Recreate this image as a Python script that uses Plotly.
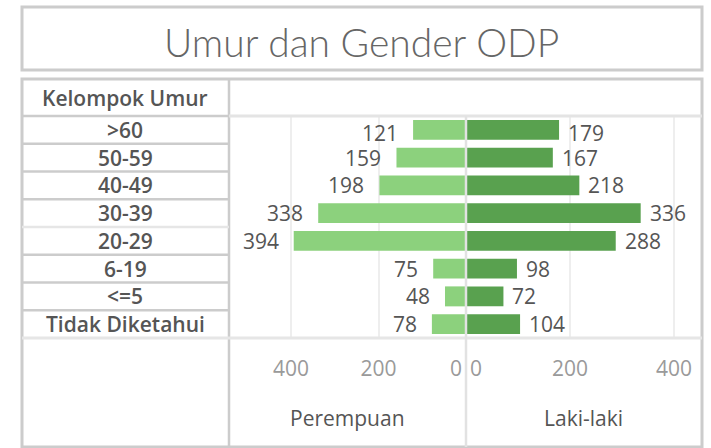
import plotly.graph_objects as go

# ---- data ----
age_groups = [">60", "50-59", "40-49", "30-39", "20-29", "6-19", "<=5", "Tidak Diketahui"]
perempuan = [121, 159, 198, 338, 394, 75, 48, 78]
laki_laki = [179, 167, 218, 336, 288, 98, 72, 104]
tick_vals = [200, 400]
tick_text = ["200", "400"]
title_text = "Umur dan Gender ODP"
row_header = "Kelompok Umur"
pane_titles = ["Perempuan", "Laki-laki"]

W, H = 711, 448
def px(x):
    return x / W
def py(y):
    return 1 - y / H

FONT = "Open Sans"
C_LIGHT = "#8CD17D"
C_DARK = "#59A14F"
BORDER = "#cccccc"
TXT = "#555555"
TICK = "#9a9a9a"
FS = 21

fig = go.Figure()
fig.add_trace(go.Bar(y=age_groups, x=perempuan, orientation="h", marker=dict(color=C_LIGHT, line=dict(width=0)),
                     width=0.72, xaxis="x", yaxis="y", name="Perempuan", hoverinfo="x+y"))
fig.add_trace(go.Bar(y=age_groups, x=laki_laki, orientation="h", marker=dict(color=C_DARK, line=dict(width=0)),
                     width=0.72, xaxis="x2", yaxis="y", name="Laki-laki", hoverinfo="x+y"))

n = len(age_groups)
left_max = 542
right_max = 452
STANDOFF = 16
axis_common = dict(showgrid=True, gridcolor="#eeeeee", gridwidth=2, zeroline=False, showline=False,
                   ticks="", tickfont=dict(family=FONT, size=FS, color=TICK), anchor="y",
                   fixedrange=True, ticklabelstandoff=STANDOFF)
zero_common = dict(showgrid=False, zeroline=False, showline=False, ticks="", anchor="y", fixedrange=True,
                   tickfont=dict(family=FONT, size=FS, color=TICK), ticklabelstandoff=STANDOFF,
                   tickvals=[0], ticktext=["0"])

fig.update_layout(
    width=W, height=H, margin=dict(l=0, r=0, t=0, b=0),
    paper_bgcolor="white", plot_bgcolor="white", showlegend=False, barmode="overlay",
    xaxis=dict(domain=[px(229), px(466)], range=[left_max, 0], tickvals=tick_vals, ticktext=tick_text, **axis_common),
    xaxis2=dict(domain=[px(466), px(701)], range=[0, right_max], tickvals=tick_vals, ticktext=tick_text, **axis_common),
    xaxis3=dict(overlaying="x", range=[left_max, 0], ticklabelposition="outside left", ticklabelshift=4, **zero_common),
    xaxis4=dict(overlaying="x2", range=[0, right_max], ticklabelposition="outside right", ticklabelshift=4, **zero_common),
    yaxis=dict(domain=[py(338), py(116)], type="category", categoryorder="array", categoryarray=age_groups,
               range=[n - 0.5, -0.5], showticklabels=False, showgrid=False, zeroline=False, fixedrange=True),
)
# invisible traces so the overlay axes render
fig.add_trace(go.Scatter(x=[0], y=[age_groups[0]], xaxis="x3", yaxis="y", mode="markers",
                         marker=dict(opacity=0), hoverinfo="skip"))
fig.add_trace(go.Scatter(x=[0], y=[age_groups[0]], xaxis="x4", yaxis="y", mode="markers",
                         marker=dict(opacity=0), hoverinfo="skip"))

shapes = []
def line(x0, y0, x1, y1, color=BORDER, width=2.5):
    shapes.append(dict(type="line", xref="paper", yref="paper", x0=px(x0), y0=py(y0), x1=px(x1), y1=py(y1),
                       line=dict(color=color, width=width)))

# title box and table box
shapes.append(dict(type="rect", xref="paper", yref="paper", x0=px(22), x1=px(702), y0=py(70), y1=py(7),
                   line=dict(color=BORDER, width=3)))
shapes.append(dict(type="rect", xref="paper", yref="paper", x0=px(22), x1=px(702), y0=py(447), y1=py(79),
                   line=dict(color=BORDER, width=3)))
# column divider
line(229, 79, 229, 447)
# header separator
line(22, 116, 229, 116)
line(229, 116, 702, 116, color="#e4e4e4", width=3)
# row separators in left column (at category boundaries)
for i in range(n - 1):
    shapes.append(dict(type="line", xref="paper", yref="y", x0=px(22), x1=px(229), y0=i + 0.5, y1=i + 0.5,
                       line=dict(color=BORDER if i != 3 else "#e6e6e6", width=2.5)))
# bottom of chart pane
line(22, 338, 702, 338, color="#e6e6e6", width=3)
# pane divider (zero line)
line(466, 116, 466, 447, color="#e2e2e2", width=2.5)
fig.update_layout(shapes=shapes)

ann = []
ann.append(dict(text=title_text, xref="paper", yref="paper", x=px(361), y=py(42), xanchor="center", yanchor="middle",
                showarrow=False, font=dict(family="Lato", size=39, color="#666666", weight=300)))
ann.append(dict(text=row_header, xref="paper", yref="paper", x=px(125), y=py(98), xanchor="center", yanchor="middle",
                showarrow=False, font=dict(family=FONT, size=FS, color=TXT, weight=600)))
for g in age_groups:
    ann.append(dict(text=g, xref="paper", yref="y", x=px(125), y=g, xanchor="center", yanchor="middle",
                    showarrow=False, font=dict(family=FONT, size=FS, color=TXT, weight=600)))
for i, (g, v) in enumerate(zip(age_groups, perempuan)):
    ann.append(dict(text=str(v), xref="x", yref="y", x=v, y=g, xanchor="right", yanchor="middle", xshift=-13,
                    yshift=-3 if i == 0 else 0, showarrow=False, font=dict(family=FONT, size=FS, color=TXT)))
for i, (g, v) in enumerate(zip(age_groups, laki_laki)):
    ann.append(dict(text=str(v), xref="x2", yref="y", x=v, y=g, xanchor="left", yanchor="middle", xshift=7,
                    yshift=-3 if i == 0 else 0, showarrow=False, font=dict(family=FONT, size=FS, color=TXT)))
for ax, t in zip(["x", "x2"], pane_titles):
    ann.append(dict(text=t, xref=ax + " domain", yref="paper", x=0.5, y=py(418), xanchor="center", yanchor="middle",
                    showarrow=False, font=dict(family=FONT, size=FS, color=TXT)))
fig.update_layout(annotations=ann)

fig.write_html("out.html", post_script="document.body.style.margin='0';",
               config={"displayModeBar": False})
